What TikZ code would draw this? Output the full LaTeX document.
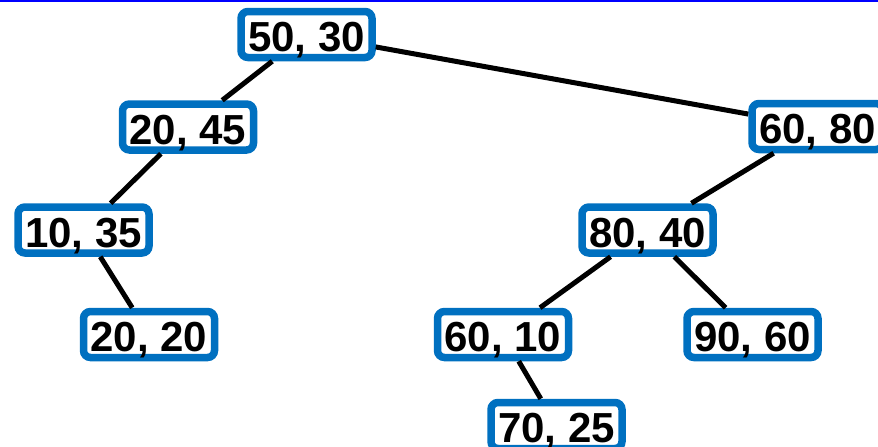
\documentclass[tikz,border=0pt]{standalone}
\usepackage{fontspec}
\setmainfont{Liberation Sans}
\definecolor{nodeblue}{RGB}{0,112,192}
\definecolor{topblue}{RGB}{0,0,255}

\begin{document}
\begin{tikzpicture}[x=1pt, y=-1pt,
pairbox/.style={draw=nodeblue, line width=7.5pt, rounded corners=7pt, fill=white, minimum width=131pt, minimum height=46pt, inner sep=0pt, font=\fontsize{42}{44}\selectfont\bfseries, text height=34pt, text depth=0pt},
edge/.style={line width=5pt, black}
]
\clip (0,0) rectangle (878,447);
\draw[topblue, line width=2pt] (0,1) -- (878,1);

\node[pairbox] (n5030) at (306.5,34.5) {50, 30};
\node[pairbox] (n2045) at (188,127) {20, 45};
\node[pairbox] (n6080) at (817.5,126.5) {60, 80};
\node[pairbox] (n1035) at (83.5,230) {10, 35};
\node[pairbox] (n8040) at (647.5,230) {80, 40};
\node[pairbox] (n2020) at (149,334.5) {20, 20};
\node[pairbox] (n6010) at (503,334.5) {60, 10};
\node[pairbox] (n9060) at (752.5,334.5) {90, 60};
\node[pairbox] (n7025) at (556.5,425.5) {70, 25};

\draw[edge] (n5030) -- (n2045);
\draw[edge] (n5030) -- (n6080);
\draw[edge] (n2045) -- (n1035);
\draw[edge] (n1035) -- (n2020);
\draw[edge] (n6080) -- (n8040);
\draw[edge] (n8040) -- (n6010);
\draw[edge] (n8040) -- (n9060);
\draw[edge] (n6010) -- (n7025);
\end{tikzpicture}
\end{document}
